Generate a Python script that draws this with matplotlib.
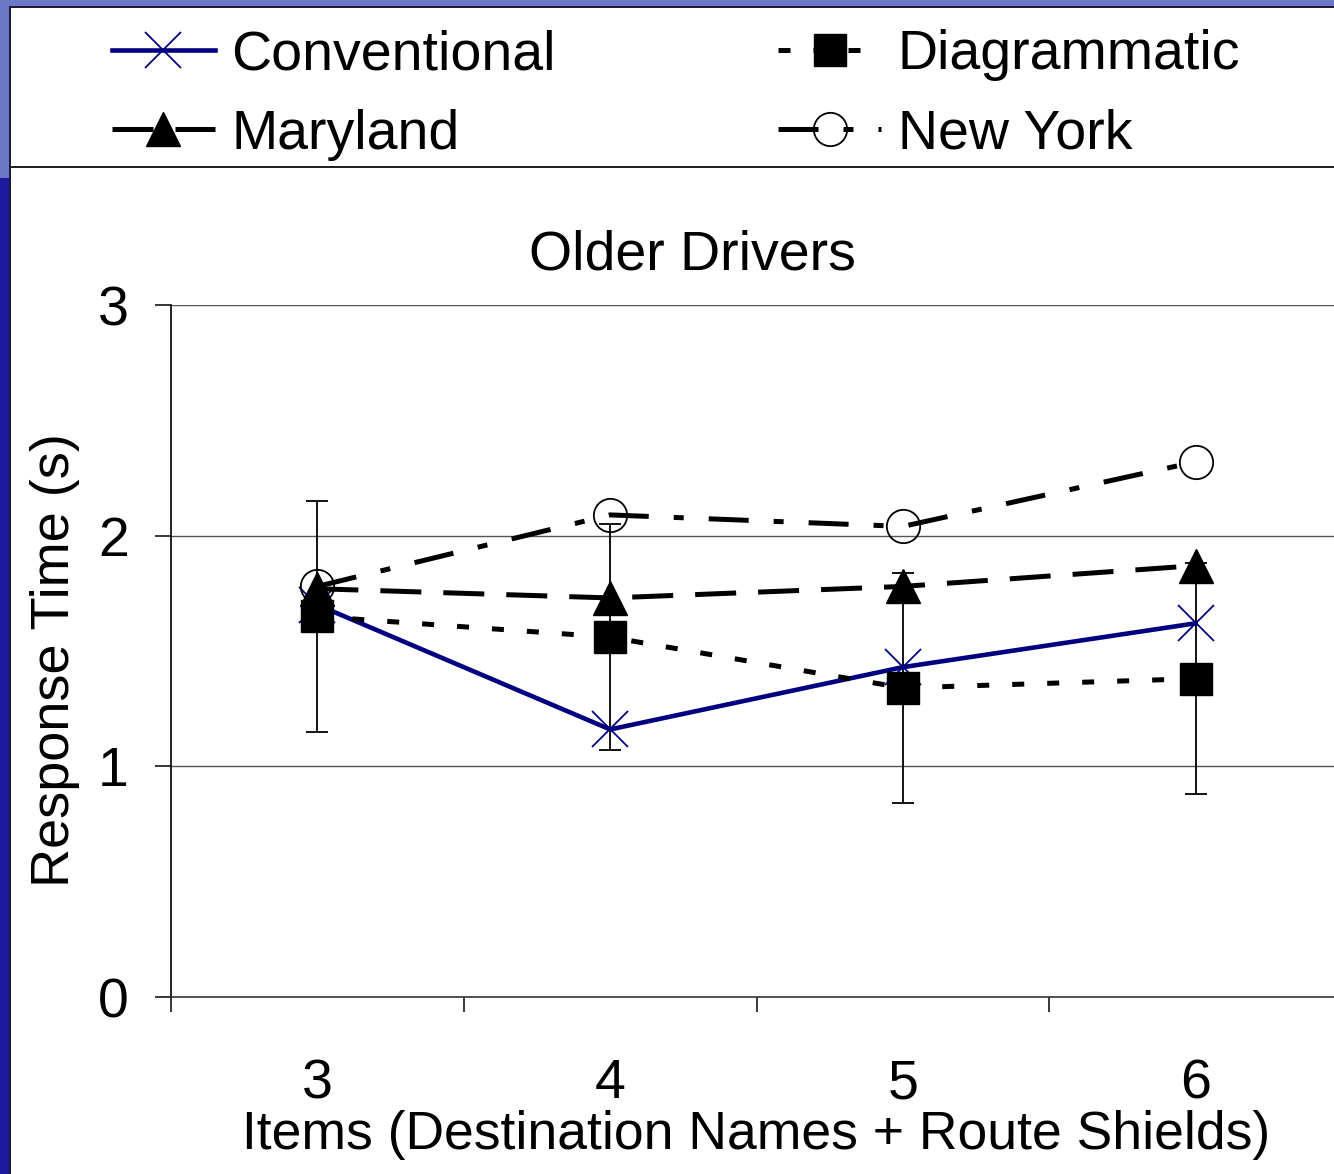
import matplotlib
matplotlib.use("Agg")
import matplotlib.pyplot as plt
from matplotlib.patches import Rectangle

plt.rcParams['font.family'] = ['Liberation Sans', 'DejaVu Sans']

# ---- data ----
items = [3, 4, 5, 6]
conventional = [1.70, 1.16, 1.43, 1.62]
diagrammatic = [1.65, 1.56, 1.34, 1.38]
diagrammatic_err = [0.50, 0.49, 0.50, 0.50]
maryland = [1.77, 1.73, 1.78, 1.87]
new_york = [1.78, 2.09, 2.04, 2.32]
y_ticks = [0, 1, 2, 3]
title = "Older Drivers"
x_label = "Items (Destination Names + Route Shields)"
y_label = "Response Time (s)"

W, H = 1334, 1174
fig = plt.figure(figsize=(W / 100, H / 100), dpi=100)
fig.patch.set_facecolor('white')

# slide background strips
def px_rect(x0, y0, x1, y1, color, z=0):
    fig.patches.append(Rectangle((x0 / W, 1 - y1 / H), (x1 - x0) / W, (y1 - y0) / H,
                                 transform=fig.transFigure, facecolor=color,
                                 edgecolor='none', zorder=z))

px_rect(0, 0, W, 6, '#6b78c8')
px_rect(0, 0, 9, 178, '#6b78c8')
px_rect(0, 178, 9, H, '#1e1a9e')
px_rect(9, 6, W, 8, '#1c1c38')
px_rect(9, 6, 11, H, '#1c1c38')
# legend box bottom line
px_rect(11, 166, W, 168, '#222222')

# axes: x from 2.5 (px 171) to 6.5 (px 1342); y 0 (px 997) to 3 (px 305)
ax = fig.add_axes([171 / W, (H - 997) / H, (1342 - 171) / W, (997 - 305) / H])
ax.set_xlim(2.5, 6.5)
ax.set_ylim(0, 3)
ax.set_facecolor('none')

for s in ['top', 'right']:
    ax.spines[s].set_visible(False)
ax.spines['left'].set_color('black')
ax.spines['left'].set_linewidth(1.2)
ax.spines['bottom'].set_color('#333333')
ax.spines['bottom'].set_linewidth(1.2)

for yv in y_ticks[1:]:
    ax.axhline(yv, color='#555555', lw=1.0, zorder=0.5)

ax.set_yticks(y_ticks)
ax.set_yticklabels([str(v) for v in y_ticks])
ax.tick_params(axis='y', length=11.5, width=1.1, pad=19, labelsize=40, direction='out')

bounds = [i - 0.5 for i in items] + [items[-1] + 0.5]
ax.set_xticks(bounds)
ax.set_xticklabels([''] * len(bounds))
ax.set_xticks(items, minor=True)
ax.set_xticklabels([str(v) for v in items], minor=True)
ax.tick_params(axis='x', which='major', length=11, width=1.1, direction='out')
ax.tick_params(axis='x', which='minor', length=0, pad=44, labelsize=40)

# error bars (Diagrammatic)
ax.errorbar(items, diagrammatic, yerr=diagrammatic_err, fmt='none', ecolor='black',
            elinewidth=1.3, capsize=8, capthick=1.3, zorder=2)

ms_lw = 3.6
l_conv, = ax.plot(items, conventional, color='#000080', lw=3.3, marker='x',
                  markersize=26, markeredgewidth=1.3, zorder=3, label='Conventional')
l_diag, = ax.plot(items, diagrammatic, color='black', lw=ms_lw, ls=(0, (2.4, 4.6)),
                  marker='s', markersize=23, markeredgewidth=1, zorder=4,
                  label='Diagrammatic')
l_ny, = ax.plot(items, new_york, color='black', lw=ms_lw, ls=(0, (8, 5, 2, 5)),
                marker='o', markersize=24, markerfacecolor='none',
                markeredgewidth=1.3, zorder=4, label='New York')
l_md, = ax.plot(items, maryland, color='black', lw=ms_lw, ls=(0, (8.2, 4.4)),
                marker='^', markersize=25, markeredgewidth=1, zorder=5,
                label='Maryland')

# legend
handles = [l_conv, l_md, l_diag, l_ny]
leg = fig.legend(handles=handles, labels=[h.get_label() for h in handles],
                 ncol=2, frameon=False, fontsize=40, handlelength=1.85,
                 handletextpad=0.3, columnspacing=4.0, labelspacing=0.5,
                 loc='center left', bbox_to_anchor=(112 / W, 1 - 95 / H),
                 borderaxespad=0, borderpad=0)

fig.text(692 / W, 1 - 256 / H, title, fontsize=40, ha='center', va='center')
fig.text(756 / W, 1 - 1135 / H, x_label, fontsize=38.5, ha='center', va='center')
fig.text(55 / W, 1 - 660 / H, y_label, fontsize=39, ha='center', va='center',
         rotation=90)

fig.savefig('out.png', dpi=100, facecolor=fig.get_facecolor())
